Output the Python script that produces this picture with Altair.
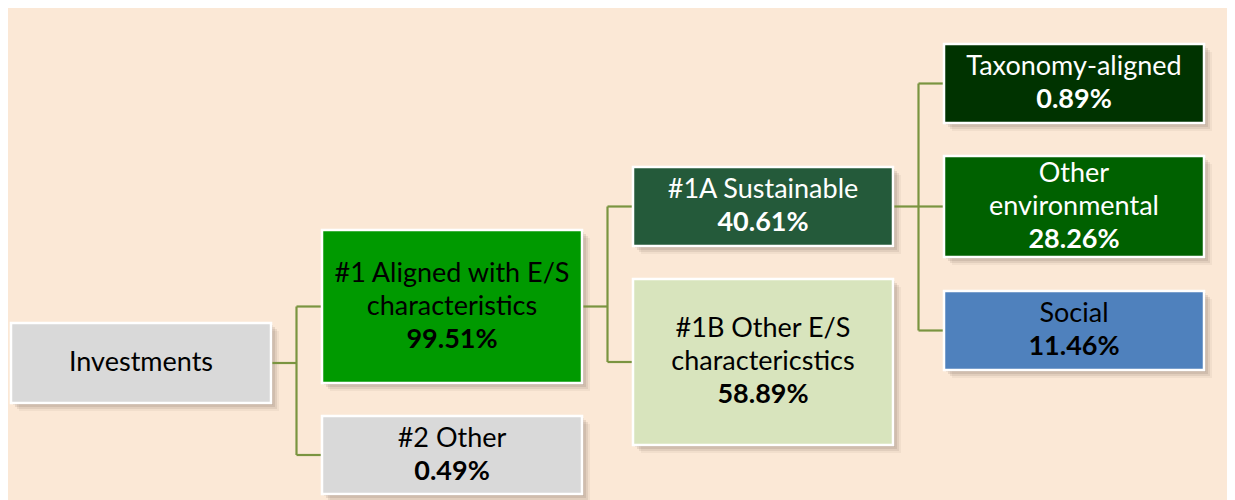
import altair as alt
import pandas as pd

# ---------------- data ----------------
node_names = [
    "Investments",
    "#1 Aligned with E/S\ncharacteristics",
    "#2 Other",
    "#1A Sustainable",
    "#1B Other E/S\ncharactericstics",
    "Taxonomy-aligned",
    "Other\nenvironmental",
    "Social",
]
node_values = ["", "99.51%", "0.49%", "40.61%", "58.89%", "0.89%", "28.26%", "11.46%"]
node_parent = [-1, 0, 0, 1, 1, 3, 3, 3]

# ---------------- layout / style ----------------
box_top = [323, 230, 416, 167, 279, 44, 156, 291]
box_bottom = [403, 383, 494, 246, 445, 123, 257, 370]
col_left0, col_step, box_w = 11, 311, 260
line_h = 33
box_fill = ["#D9D9D9", "#009A00", "#D9D9D9", "#245A3A", "#D8E4BD",
            "#003300", "#006100", "#4F81BD"]
text_fill = ["#000000", "#000000", "#000000", "#FFFFFF", "#000000",
             "#FFFFFF", "#FFFFFF", "#000000"]
BG = "#FBE8D6"
LINK = "#7A9440"
FONT = "Lato"
FS = 27


def depth(i):
    d = 0
    while node_parent[i] >= 0:
        i = node_parent[i]
        d += 1
    return d


n = len(node_names)
left = [col_left0 + depth(i) * col_step for i in range(n)]
right = [l + box_w for l in left]
cy = [(box_top[i] + box_bottom[i]) / 2 for i in range(n)]

boxes = pd.DataFrame({
    "x": left, "x2": right, "y": box_top, "y2": box_bottom, "fill": box_fill,
})

shadow_rows = []
for off, op in [(2, 0.10), (4, 0.12), (6, 0.10), (8, 0.06)]:
    for i in range(n):
        shadow_rows.append({"x": left[i] + off, "x2": right[i] + off,
                            "y": box_top[i] + off, "y2": box_bottom[i] + off,
                            "op": op})
shadows = pd.DataFrame(shadow_rows)

# connectors
segs = []
for p in range(n):
    kids = [k for k in range(n) if node_parent[k] == p]
    if not kids:
        continue
    elbow = (right[p] + left[kids[0]]) / 2
    segs.append({"x": right[p], "x2": elbow, "y": cy[p], "y2": cy[p]})
    ys_ = [cy[k] for k in kids]
    segs.append({"x": elbow, "x2": elbow, "y": min(ys_), "y2": max(ys_)})
    for k in kids:
        segs.append({"x": elbow, "x2": left[k], "y": cy[k], "y2": cy[k]})
links = pd.DataFrame(segs)

# text lines
rows = []
for i in range(n):
    lines = [(t, "normal") for t in node_names[i].split("\n")]
    if node_values[i]:
        lines.append((node_values[i], "bold"))
    m = len(lines)
    for j, (t, w) in enumerate(lines):
        rows.append({"x": (left[i] + right[i]) / 2,
                     "y": cy[i] + (j - (m - 1) / 2) * line_h,
                     "t": t, "w": w, "c": text_fill[i]})
texts = pd.DataFrame(rows)

X0, X1, Y0, Y1 = 8, 1227, 8, 500
xs = alt.Scale(domain=[X0, X1], nice=False, zero=False)
ys = alt.Scale(domain=[Y0, Y1], nice=False, zero=False, reverse=True)


def X(f):
    return alt.X(f"{f}:Q", scale=xs, axis=None)


def Y(f):
    return alt.Y(f"{f}:Q", scale=ys, axis=None)


shadow_layer = alt.Chart(shadows).mark_rect(color="#5A4636", clip=False).encode(
    x=X("x"), x2="x2", y=Y("y"), y2="y2",
    opacity=alt.Opacity("op:Q", scale=None),
)
link_layer = alt.Chart(links).mark_rule(color=LINK, strokeWidth=2.2).encode(
    x=X("x"), x2="x2", y=Y("y"), y2="y2",
)
box_layer = alt.Chart(boxes).mark_rect(stroke="white", strokeWidth=2.5).encode(
    x=X("x"), x2="x2", y=Y("y"), y2="y2",
    color=alt.Color("fill:N", scale=None),
)
text_norm = alt.Chart(texts).transform_filter(alt.datum.w == "normal").mark_text(
    font=FONT, fontSize=FS, align="center", baseline="middle"
).encode(x=X("x"), y=Y("y"), text="t:N", color=alt.Color("c:N", scale=None))
text_bold = alt.Chart(texts).transform_filter(alt.datum.w == "bold").mark_text(
    font=FONT, fontSize=FS, fontWeight="bold", align="center", baseline="middle"
).encode(x=X("x"), y=Y("y"), text="t:N", color=alt.Color("c:N", scale=None))

chart = alt.layer(shadow_layer, link_layer, box_layer, text_norm, text_bold).properties(
    width=X1 - X0, height=Y1 - Y0, padding=0,
    autosize=alt.AutoSizeParams(type="none"),
    background=BG,
).configure_view(stroke=None)

chart.save("out.html", embed_options={"renderer": "svg", "actions": False})
